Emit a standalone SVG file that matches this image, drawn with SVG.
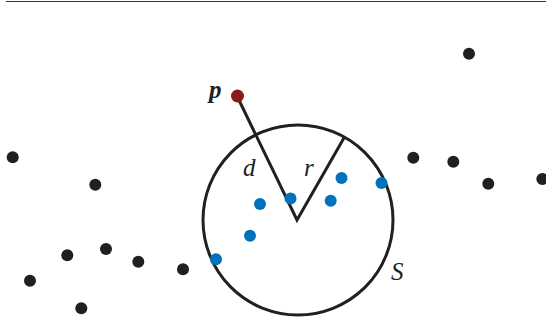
<svg xmlns="http://www.w3.org/2000/svg" width="546" height="322" viewBox="0 0 546 322">
<style>
.pt{fill:#231f20}
.in{fill:#0072bc}
.ln{stroke:#231f20;stroke-width:3;fill:none}
.lb{font-family:"Liberation Serif",serif;font-style:italic;font-size:25px;fill:#231f20}
</style>
<rect width="546" height="322" fill="#fff"/>
<line x1="6" y1="1.5" x2="546" y2="1.5" stroke="#333" stroke-width="1.2"/>
<g id="circle-S"><circle class="ln" cx="298" cy="220" r="95"/></g>
<g id="connectors">
<polyline class="ln" points="237,96 297,220 344.5,137"/>
</g>
<g id="inside">
<circle class="in" cx="260" cy="204" r="6"/>
<circle class="in" cx="290.5" cy="198.5" r="6"/>
<circle class="in" cx="341.5" cy="178" r="6"/>
<circle class="in" cx="330.7" cy="200.7" r="6"/>
<circle class="in" cx="250" cy="235.7" r="6"/>
<circle class="in" cx="216" cy="259.3" r="6"/>
<circle class="in" cx="381.5" cy="183" r="6"/>
</g>
<g id="outside">
<circle class="pt" cx="12.7" cy="157.3" r="6"/>
<circle class="pt" cx="95.3" cy="184.7" r="6"/>
<circle class="pt" cx="67.3" cy="255.3" r="6"/>
<circle class="pt" cx="106" cy="249" r="6"/>
<circle class="pt" cx="138.3" cy="261.7" r="6"/>
<circle class="pt" cx="183" cy="269.3" r="6"/>
<circle class="pt" cx="30" cy="280.7" r="6"/>
<circle class="pt" cx="81.3" cy="308.3" r="6"/>
<circle class="pt" cx="469" cy="53.7" r="6"/>
<circle class="pt" cx="413.3" cy="157.7" r="6"/>
<circle class="pt" cx="453.3" cy="161.7" r="6"/>
<circle class="pt" cx="488.3" cy="183.7" r="6"/>
<circle class="pt" cx="542.3" cy="179" r="6"/>
</g>
<g id="p"><circle cx="237.5" cy="96" r="6.5" fill="#8b1a1a"/>
<text class="lb" x="209" y="98" font-weight="bold" font-size="27">p</text></g>
<text class="lb" x="243" y="176">d</text>
<text class="lb" x="304" y="176">r</text>
<text class="lb" x="391" y="280">S</text>
</svg>
